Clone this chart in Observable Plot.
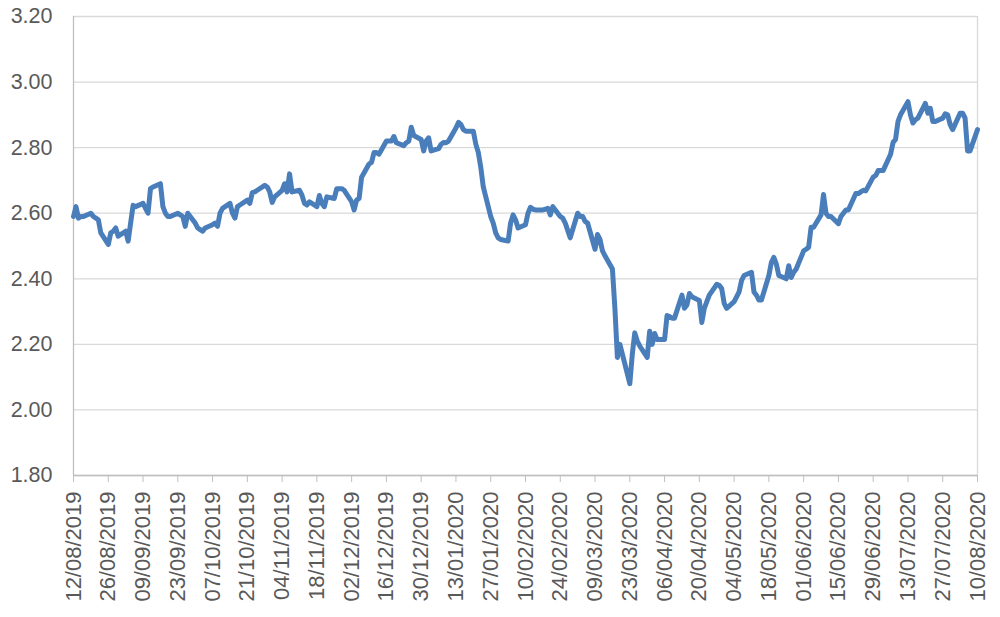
<!DOCTYPE html>
<html>
<head>
<meta charset="utf-8">
<script src="https://cdn.jsdelivr.net/npm/d3@7"></script>
<script src="https://cdn.jsdelivr.net/npm/@observablehq/plot@0.6"></script>
<style>
  html, body { margin: 0; padding: 0; background: #ffffff; }
  #chart { width: 1000px; height: 617px; }
</style>
</head>
<body>
<div id="chart"></div>
<script>
const dates = [
  "2019-08-12","2019-08-13","2019-08-14","2019-08-15","2019-08-16",
  "2019-08-19","2019-08-20","2019-08-21","2019-08-22","2019-08-23",
  "2019-08-26","2019-08-27","2019-08-28","2019-08-29","2019-08-30",
  "2019-09-02","2019-09-03","2019-09-04","2019-09-05","2019-09-06",
  "2019-09-09","2019-09-10","2019-09-11","2019-09-12","2019-09-13",
  "2019-09-16","2019-09-17","2019-09-18","2019-09-19","2019-09-20",
  "2019-09-23","2019-09-24","2019-09-25","2019-09-26","2019-09-27",
  "2019-09-30","2019-10-01","2019-10-02","2019-10-03","2019-10-04",
  "2019-10-07","2019-10-08","2019-10-09","2019-10-10","2019-10-11",
  "2019-10-14","2019-10-15","2019-10-16","2019-10-17","2019-10-18",
  "2019-10-21","2019-10-22","2019-10-23","2019-10-24","2019-10-25",
  "2019-10-28","2019-10-29","2019-10-30","2019-10-31","2019-11-01",
  "2019-11-04","2019-11-05","2019-11-06","2019-11-07","2019-11-08",
  "2019-11-11","2019-11-12","2019-11-13","2019-11-14","2019-11-15",
  "2019-11-18","2019-11-19","2019-11-20","2019-11-21","2019-11-22",
  "2019-11-25","2019-11-26","2019-11-27","2019-11-28","2019-11-29",
  "2019-12-02","2019-12-03","2019-12-04","2019-12-05","2019-12-06",
  "2019-12-09","2019-12-10","2019-12-11","2019-12-12","2019-12-13",
  "2019-12-16","2019-12-17","2019-12-18","2019-12-19","2019-12-20",
  "2019-12-23","2019-12-24","2019-12-25","2019-12-26","2019-12-27",
  "2019-12-30","2019-12-31","2020-01-01","2020-01-02","2020-01-03",
  "2020-01-06","2020-01-07","2020-01-08","2020-01-09","2020-01-10",
  "2020-01-13","2020-01-14","2020-01-15","2020-01-16","2020-01-17",
  "2020-01-20","2020-01-21","2020-01-22","2020-01-23","2020-01-24",
  "2020-01-27","2020-01-28","2020-01-29","2020-01-30","2020-01-31",
  "2020-02-03","2020-02-04","2020-02-05","2020-02-06","2020-02-07",
  "2020-02-10","2020-02-11","2020-02-12","2020-02-13","2020-02-14",
  "2020-02-17","2020-02-18","2020-02-19","2020-02-20","2020-02-21",
  "2020-02-24","2020-02-25","2020-02-26","2020-02-27","2020-02-28",
  "2020-03-02","2020-03-03","2020-03-04","2020-03-05","2020-03-06",
  "2020-03-09","2020-03-10","2020-03-11","2020-03-12","2020-03-13",
  "2020-03-16","2020-03-17","2020-03-18","2020-03-19","2020-03-20",
  "2020-03-23","2020-03-24","2020-03-25","2020-03-26","2020-03-27",
  "2020-03-30","2020-03-31","2020-04-01","2020-04-02","2020-04-03",
  "2020-04-06","2020-04-07","2020-04-08","2020-04-09","2020-04-10",
  "2020-04-13","2020-04-14","2020-04-15","2020-04-16","2020-04-17",
  "2020-04-20","2020-04-21","2020-04-22","2020-04-23","2020-04-24",
  "2020-04-27","2020-04-28","2020-04-29","2020-04-30","2020-05-01",
  "2020-05-04","2020-05-05","2020-05-06","2020-05-07","2020-05-08",
  "2020-05-11","2020-05-12","2020-05-13","2020-05-14","2020-05-15",
  "2020-05-18","2020-05-19","2020-05-20","2020-05-21","2020-05-22",
  "2020-05-25","2020-05-26","2020-05-27","2020-05-28","2020-05-29",
  "2020-06-01","2020-06-02","2020-06-03","2020-06-04","2020-06-05",
  "2020-06-08","2020-06-09","2020-06-10","2020-06-11","2020-06-12",
  "2020-06-15","2020-06-16","2020-06-17","2020-06-18","2020-06-19",
  "2020-06-22","2020-06-23","2020-06-24","2020-06-25","2020-06-26",
  "2020-06-29","2020-06-30","2020-07-01","2020-07-02","2020-07-03",
  "2020-07-06","2020-07-07","2020-07-08","2020-07-09","2020-07-10",
  "2020-07-13","2020-07-14","2020-07-15","2020-07-16","2020-07-17",
  "2020-07-20","2020-07-21","2020-07-22","2020-07-23","2020-07-24",
  "2020-07-27","2020-07-28","2020-07-29","2020-07-30","2020-07-31",
  "2020-08-03","2020-08-04","2020-08-05","2020-08-06","2020-08-07",
  "2020-08-10"
];

const values = [
  2.59, 2.62, 2.585, 2.59, 2.59,
  2.60, 2.59, 2.585, 2.58, 2.54,
  2.505, 2.54, 2.545, 2.555, 2.53,
  2.545, 2.515, 2.57, 2.624, 2.62,
  2.63, 2.615, 2.60, 2.675, 2.68,
  2.69, 2.62, 2.60, 2.59, 2.59,
  2.60, 2.595, 2.59, 2.56, 2.60,
  2.57, 2.555, 2.55, 2.545, 2.555,
  2.565, 2.57, 2.56, 2.60, 2.615,
  2.63, 2.60, 2.585, 2.62, 2.625,
  2.64, 2.63, 2.663, 2.665, 2.67,
  2.685, 2.68, 2.665, 2.633, 2.65,
  2.67, 2.69, 2.665, 2.72, 2.665,
  2.67, 2.655, 2.63, 2.625, 2.635,
  2.62, 2.654, 2.63, 2.62, 2.65,
  2.645, 2.675, 2.675, 2.675, 2.67,
  2.635, 2.61, 2.64, 2.645, 2.71,
  2.75, 2.755, 2.785, 2.785, 2.78,
  2.82, 2.82, 2.82, 2.834, 2.815,
  2.806, 2.815, 2.82, 2.862, 2.837,
  2.825, 2.79, 2.82, 2.83, 2.79,
  2.797, 2.81, 2.816, 2.815, 2.82,
  2.86, 2.877, 2.87, 2.855, 2.85,
  2.85, 2.81, 2.785, 2.74, 2.68,
  2.59, 2.57, 2.54, 2.525, 2.52,
  2.515, 2.57, 2.595, 2.58, 2.555,
  2.565, 2.60, 2.618, 2.612, 2.61,
  2.61, 2.612, 2.615, 2.595, 2.62,
  2.59, 2.585, 2.57, 2.547, 2.525,
  2.60, 2.59, 2.59, 2.575, 2.57,
  2.49, 2.535, 2.52, 2.485, 2.47,
  2.43, 2.31, 2.16, 2.20, 2.17,
  2.08, 2.17, 2.235, 2.21, 2.195,
  2.16, 2.24, 2.20, 2.233, 2.215,
  2.215, 2.288, 2.285, 2.28, 2.28,
  2.35, 2.31, 2.32, 2.355, 2.345,
  2.334, 2.267, 2.31, 2.33, 2.35,
  2.383, 2.38, 2.37, 2.325, 2.31,
  2.33, 2.345, 2.36, 2.395, 2.41,
  2.42, 2.36, 2.35, 2.335, 2.335,
  2.41, 2.45, 2.465, 2.445, 2.41,
  2.40, 2.44, 2.404, 2.42, 2.43,
  2.485, 2.49, 2.496, 2.557, 2.557,
  2.595, 2.657, 2.60, 2.59, 2.59,
  2.568, 2.59, 2.60, 2.61, 2.61,
  2.66, 2.66, 2.665, 2.67, 2.668,
  2.71, 2.715, 2.73, 2.73, 2.73,
  2.78, 2.816, 2.825, 2.88, 2.90,
  2.94, 2.90, 2.875, 2.885, 2.89,
  2.935, 2.905, 2.92, 2.88, 2.88,
  2.89, 2.903, 2.90, 2.87, 2.855,
  2.905, 2.905, 2.89, 2.79, 2.79,
  2.855
];

const xTickLabels = [
  "2019-08-12","2019-08-26","2019-09-09","2019-09-23","2019-10-07","2019-10-21",
  "2019-11-04","2019-11-18","2019-12-02","2019-12-16","2019-12-30","2020-01-13",
  "2020-01-27","2020-02-10","2020-02-24","2020-03-09","2020-03-23","2020-04-06",
  "2020-04-20","2020-05-04","2020-05-18","2020-06-01","2020-06-15","2020-06-29",
  "2020-07-13","2020-07-27","2020-08-10"
];

const yTicks = [1.8, 2.0, 2.2, 2.4, 2.6, 2.8, 3.0, 3.2];

const data = dates.map((d, i) => ({ date: new Date(d), value: values[i] }));
const xTicks = xTickLabels.map(d => new Date(d));
const xStart = xTicks[0];
const xEnd = xTicks[xTicks.length - 1];
const fmt = d3.utcFormat("%d/%m/%Y");

const chart = Plot.plot({
  width: 1000,
  height: 617,
  marginLeft: 73,
  marginRight: 23,
  marginTop: 16,
  marginBottom: 142,
  style: { fontFamily: "Liberation Sans, Arial, sans-serif", background: "#ffffff", color: "#595959" },
  x: { type: "utc", domain: [xStart, xEnd], label: null },
  y: { domain: [1.8, 3.2], label: null },
  marks: [
    Plot.gridY(yTicks, { stroke: "#d9d9d9", strokeOpacity: 1, strokeWidth: 1.3 }),
    Plot.ruleX([xEnd], { stroke: "#d9d9d9", strokeWidth: 1.3 }),
    Plot.ruleX([xStart], { stroke: "#bfbfbf", strokeWidth: 1.3 }),
    Plot.ruleY([1.8], { stroke: "#bfbfbf", strokeWidth: 1.3 }),
    Plot.axisY(yTicks, {
      label: null,
      tickFormat: d => d.toFixed(2),
      tickSize: 0,
      tickPadding: 21,
      fontSize: 21.5,
      fill: "#595959"
    }),
    Plot.axisX(xTicks, {
      label: null,
      tickFormat: fmt,
      tickRotate: -90,
      tickSize: 7,
      tickPadding: 9,
      fontSize: 22,
      stroke: "#bfbfbf",
      fill: "#595959"
    }),
    Plot.line(data, {
      x: "date",
      y: "value",
      stroke: "#4a7ebb",
      strokeWidth: 5,
      strokeLinejoin: "round",
      strokeLinecap: "round"
    })
  ]
});

document.getElementById("chart").appendChild(chart);
</script>
</body>
</html>
